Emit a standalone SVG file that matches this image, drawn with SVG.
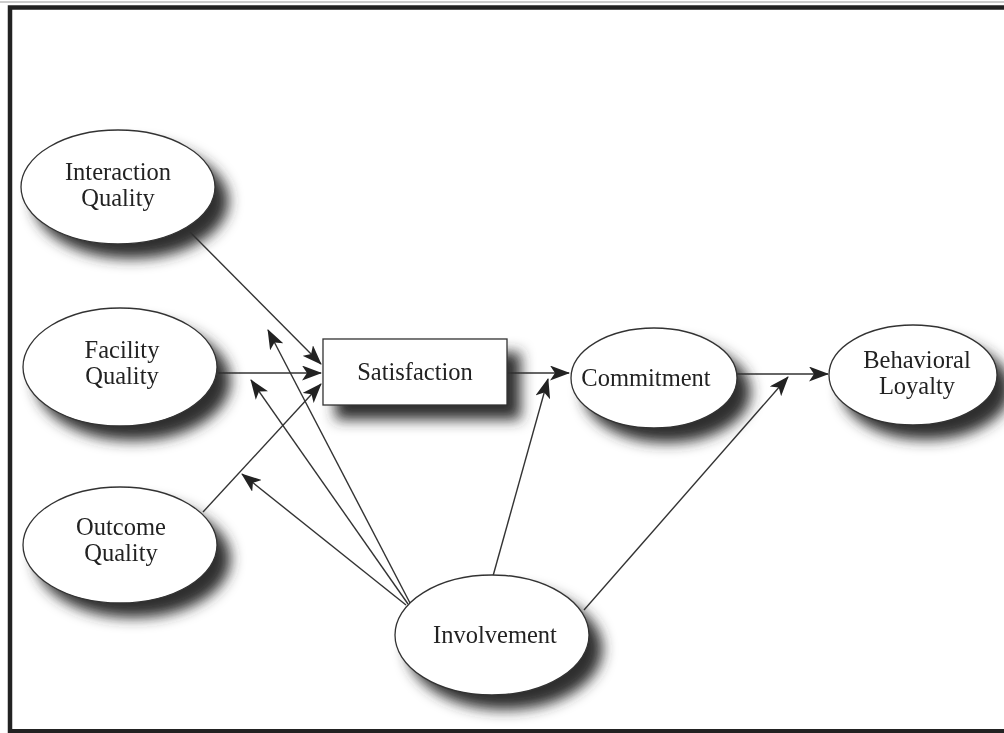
<svg xmlns="http://www.w3.org/2000/svg" width="1004" height="733" viewBox="0 0 1004 733">
<style>
.node{fill:#fff;stroke:#333;stroke-width:1.3}
.lbl{font-family:"Liberation Serif","Times New Roman",serif;font-size:24.5px;fill:#222;text-anchor:middle}
.edge{stroke:#333;stroke-width:1.4;fill:none;marker-end:url(#ah)}
</style>
<defs>
<marker id="ah" viewBox="0 0 20 15" refX="19" refY="7.5" markerWidth="20" markerHeight="15" markerUnits="userSpaceOnUse" orient="auto">
<path d="M0,0 L20,7.5 L0,15 L5,7.5 Z" fill="#222"/>
</marker>
<filter id="sh" x="-30%" y="-30%" width="170%" height="180%">
<feGaussianBlur in="SourceAlpha" stdDeviation="7" result="b"/>
<feOffset in="b" dx="13" dy="14" result="o"/>
<feFlood flood-color="#2e2e2e"/>
<feComposite in2="o" operator="in" result="s"/>
<feMerge><feMergeNode in="s"/><feMergeNode in="SourceGraphic"/></feMerge>
</filter>
</defs>
<rect width="1004" height="733" fill="#fff"/>
<line x1="0" y1="2" x2="1004" y2="2" stroke="#ccc" stroke-width="2"/>
<path d="M10,733 V7.5 H1004" stroke="#222" stroke-width="4.5" fill="none"/>
<line x1="8" y1="731" x2="1004" y2="731" stroke="#222" stroke-width="4"/>
<g id="connectors">
<line class="edge" x1="190" y1="232" x2="321" y2="364"/>
<line class="edge" x1="218" y1="373" x2="321" y2="373"/>
<line class="edge" x1="203" y1="512" x2="321" y2="384"/>
<line class="edge" x1="507" y1="373" x2="569" y2="373"/>
<line class="edge" x1="737" y1="374" x2="828" y2="374"/>
<line class="edge" x1="410" y1="603" x2="268" y2="330"/>
<line class="edge" x1="408" y1="604" x2="251" y2="380"/>
<line class="edge" x1="406" y1="605" x2="242" y2="474"/>
<line class="edge" x1="493" y1="576" x2="548" y2="379"/>
<line class="edge" x1="584" y1="610" x2="788" y2="377"/>
</g>
<g id="interaction-quality" filter="url(#sh)">
<ellipse class="node" cx="118" cy="187" rx="97" ry="57"/>
<text class="lbl" x="118" y="180">Interaction</text>
<text class="lbl" x="118" y="206">Quality</text>
</g>
<g id="facility-quality" filter="url(#sh)">
<ellipse class="node" cx="120" cy="367" rx="97" ry="59"/>
<text class="lbl" x="122" y="358">Facility</text>
<text class="lbl" x="122" y="384">Quality</text>
</g>
<g id="outcome-quality" filter="url(#sh)">
<ellipse class="node" cx="120" cy="545" rx="97" ry="58"/>
<text class="lbl" x="121" y="535">Outcome</text>
<text class="lbl" x="121" y="561">Quality</text>
</g>
<g id="satisfaction" filter="url(#sh)">
<rect class="node" x="323" y="339" width="184" height="66"/>
<text class="lbl" x="415" y="380">Satisfaction</text>
</g>
<g id="commitment" filter="url(#sh)">
<ellipse class="node" cx="654" cy="378" rx="83" ry="50"/>
<text class="lbl" x="646" y="386">Commitment</text>
</g>
<g id="behavioral-loyalty" filter="url(#sh)">
<ellipse class="node" cx="913" cy="375" rx="84" ry="50"/>
<text class="lbl" x="917" y="368">Behavioral</text>
<text class="lbl" x="917" y="394">Loyalty</text>
</g>
<g id="involvement" filter="url(#sh)">
<ellipse class="node" cx="492" cy="635" rx="97" ry="60"/>
<text class="lbl" x="495" y="643">Involvement</text>
</g>
</svg>
